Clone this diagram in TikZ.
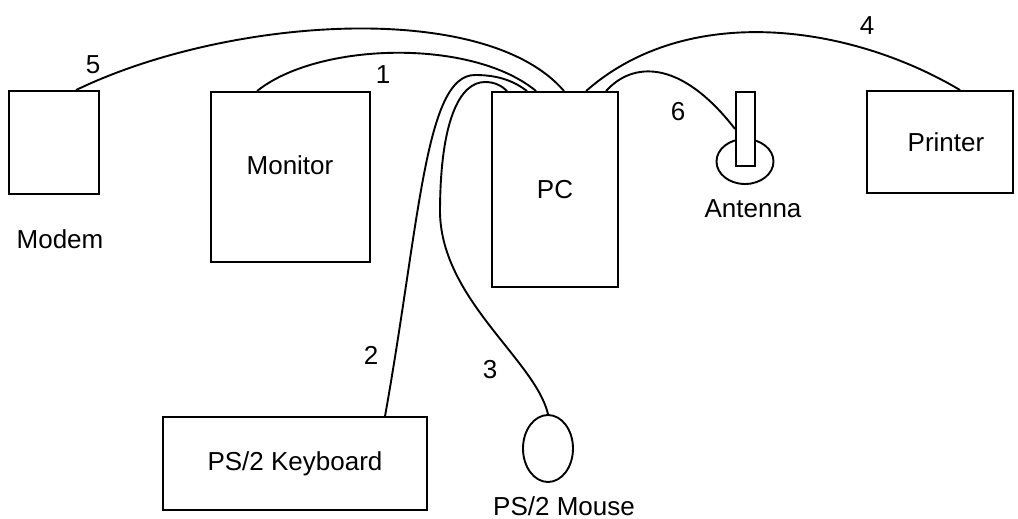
\documentclass[tikz,border=0pt]{standalone}
\usepackage{fontspec}
\setmainfont{Liberation Sans}
\usepackage{tikz}
\usetikzlibrary{shapes.geometric, positioning, calc}

\begin{document}
\begin{tikzpicture}[
    x=1pt, y=-1pt,
    every node/.style={font=\fontsize{26}{31}\selectfont, align=center},
    unit/.style={rectangle, draw=black, fill=white, line width=1.9pt, inner sep=0pt},
    round/.style={ellipse, draw=black, fill=white, line width=1.9pt, inner sep=0pt},
    cable/.style={line width=1.9pt, draw=black},
    tag/.style={inner sep=0pt, anchor=base},
    num/.style={inner sep=0pt}
]
\useasboundingbox (0,0) rectangle (1018,519);

% Devices
\node (modem) [unit, minimum width=90pt, minimum height=103pt] at (54,142.5) {};
\node (modem_tag) [tag] at (60,248) {Modem};
\node (monitor) [unit, minimum width=159pt, minimum height=170pt] at (290.5,177) {};
\node (monitor_tag) [num] at (290,165) {Monitor};
\node (pc) [unit, minimum width=126pt, minimum height=195pt] at (555,189.5) {PC};
\node (printer) [unit, minimum width=146pt, minimum height=102pt] at (940,142) {};
\node (printer_tag) [num] at (946,142) {Printer};
\node (kbd) [unit, minimum width=264pt, minimum height=93pt] at (295,463.5) {PS/2 Keyboard};
\node (mouse) [round, minimum width=50pt, minimum height=67pt] at (548,448.5) {};
\node (mouse_tag) [tag] at (564,515) {PS/2 Mouse};

% Antenna
\node (ant_base) [round, minimum width=57pt, minimum height=45pt] at (745,161.5) {};
\node (ant) [unit, minimum width=19pt, minimum height=74pt] at (745.5,129) {};
\node (ant_tag) [tag] at (753,217) {Antenna};

% Cables
\draw [cable] ([xshift=47pt]monitor.north west) .. controls (318,42) and (472,38) .. ([xshift=45pt]pc.north west);
\draw [cable] ([xshift=223pt]kbd.north west) .. controls (420,220) and (425,75) .. (475,75)
    .. controls (500,75) and (515,82) .. ([xshift=36pt]pc.north west);
\draw [cable] (mouse.north) .. controls (535,360) and (442,300) .. (440,213)
    .. controls (440,120) and (460,82) .. (485,82) .. controls (495,82) and (502,86) .. ([xshift=16pt]pc.north west);
\draw [cable] ([xshift=95pt]pc.north west) .. controls (687,2) and (849,24) .. ([xshift=94pt]printer.north west);
\draw [cable] ([xshift=68pt]modem.north west) .. controls (227,17) and (485,-1) .. ([xshift=73pt]pc.north west);
\draw [cable] ([xshift=115pt]pc.north west) .. controls (632,62) and (680,58) .. (ant.west);

% Cable numbers
\node (n1) [num] at (383,75) {1};
\node (n2) [num] at (371,355) {2};
\node (n3) [num] at (490,370) {3};
\node (n4) [num] at (867,26) {4};
\node (n5) [num] at (93,65) {5};
\node (n6) [num] at (678,112) {6};

\end{tikzpicture}
\end{document}
